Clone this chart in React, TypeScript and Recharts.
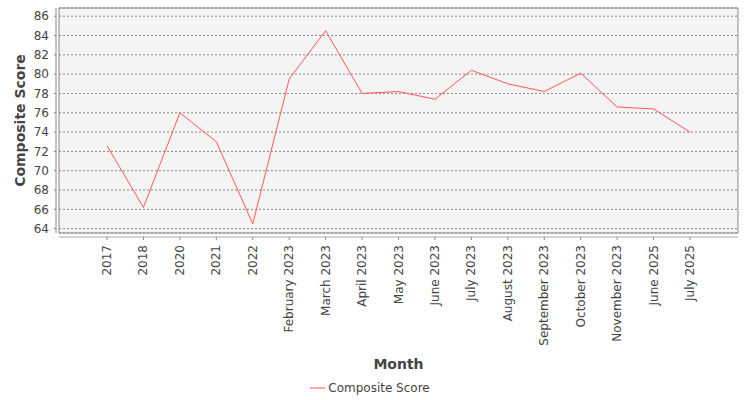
import React from 'react';
import { LineChart, Line, XAxis, YAxis, CartesianGrid, Legend } from 'recharts';

const months = [
  '2017', '2018', '2020', '2021', '2022', 'February 2023', 'March 2023', 'April 2023',
  'May 2023', 'June 2023', 'July 2023', 'August 2023', 'September 2023', 'October 2023',
  'November 2023', 'June 2025', 'July 2025',
];
const compositeScore = [
  72.6, 66.2, 76.0, 73.0, 64.5, 79.5, 84.5, 78.0,
  78.2, 77.4, 80.4, 79.0, 78.2, 80.1, 76.6, 76.4, 74.0,
];
const yTicks = [64, 66, 68, 70, 72, 74, 76, 78, 80, 82, 84, 86];
const yDomain: [number, number] = [63.55, 86.85];

const data = months.map((m, i) => ({ month: m, score: compositeScore[i] }));

const XTick = (props: any) => {
  const { x, y, payload } = props;
  return (
    <g transform={`translate(${x},${y})`}>
      <line x1={0} x2={0} y1={4} y2={7} stroke="#888" />
      <text
        transform="rotate(-90)"
        x={-12}
        y={0}
        textAnchor="end"
        dominantBaseline="central"
        fontSize={12}
        fill="#444"
        fontFamily="DejaVu Sans"
      >
        {payload.value}
      </text>
    </g>
  );
};

const LegendContent = () => (
  <div style={{ height: 24, display: 'flex', justifyContent: 'center', alignItems: 'center', fontFamily: 'DejaVu Sans', fontSize: 12, color: '#444' }}>
    <svg width={20} height={10}>
      <line x1={2} x2={17} y1={5} y2={5} stroke="#ff5555" strokeWidth={1} />
    </svg>
    <span>Composite Score</span>
  </div>
);

const frameH = ({ offset }: any) => [offset.top, offset.top + offset.height];
const frameV = ({ offset }: any) => [offset.left, offset.left + offset.width];

export default function App() {
  return (
    <div style={{ position: 'absolute', left: 0, top: 0, width: 750, height: 400, background: '#fff' }}>
      <LineChart width={750} height={400} data={data} margin={{ top: 8, right: 12, left: 0, bottom: 0 }}>
        <CartesianGrid vertical={false} fill="#f4f4f4" stroke="#888" strokeDasharray="2 2" />
        <CartesianGrid
          fill="none"
          stroke="#888"
          horizontalCoordinatesGenerator={frameH}
          verticalCoordinatesGenerator={frameV}
        />
        <XAxis
          dataKey="month"
          interval={0}
          height={143}
          padding={{ left: 48, right: 48 }}
          tickLine={false}
          tickSize={0}
          tickMargin={0}
          axisLine={{ stroke: '#aaa', transform: 'translate(0,4)' } as any}
          tick={<XTick />}
          label={{ value: 'Month', position: 'insideBottom', offset: 7, fontSize: 14, fontWeight: 'bold', fill: '#444', fontFamily: 'DejaVu Sans' }}
        />
        <YAxis
          width={59}
          domain={yDomain}
          ticks={yTicks}
          interval={0}
          allowDataOverflow
          tickSize={2}
          tickMargin={8}
          tickLine={{ stroke: '#888', transform: 'translate(-3,0)' } as any}
          axisLine={{ stroke: '#888', transform: 'translate(-3,0)' } as any}
          tick={{ fontSize: 12, fill: '#444', fontFamily: 'DejaVu Sans' }}
          label={{ value: 'Composite Score', angle: -90, position: 'insideLeft', offset: 20, fontSize: 14, fontWeight: 'bold', fill: '#444', fontFamily: 'DejaVu Sans', style: { textAnchor: 'middle' } }}
        />
        <Legend verticalAlign="bottom" height={24} content={<LegendContent />} />
        <Line type="linear" dataKey="score" stroke="#ff5555" strokeWidth={1} dot={false} isAnimationActive={false} />
      </LineChart>
    </div>
  );
}
